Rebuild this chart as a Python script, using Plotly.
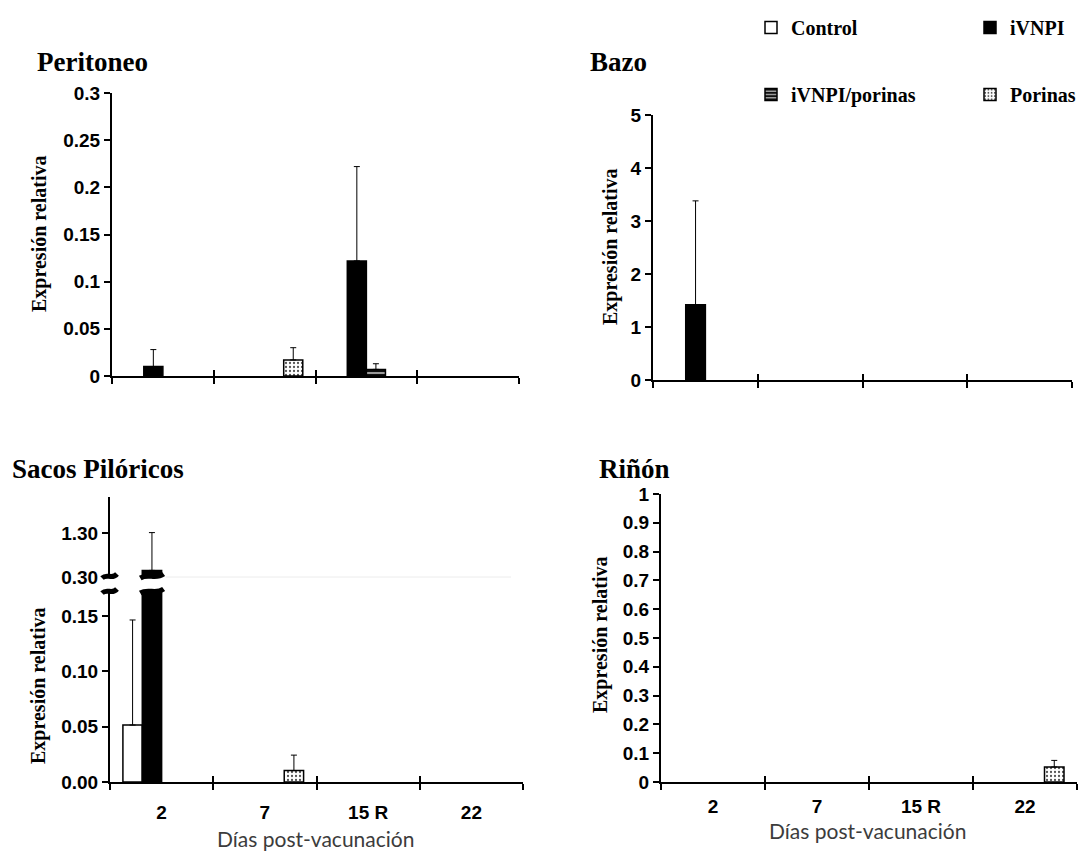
import plotly.graph_objects as go

# ---------------- data ----------------
days = ["2", "7", "15 R", "22"]
series = ["Control", "iVNPI", "iVNPI/porinas", "Porinas"]

# Peritoneo
peri_control = [None, None, None, None]
peri_ivnpi = [0.010, None, 0.122, None]
peri_ivnpi_por = [None, None, 0.007, None]
peri_porinas = [None, 0.017, None, None]
peri_control_err = [None, None, None, None]
peri_ivnpi_err = [0.018, None, 0.100, None]
peri_ivnpi_por_err = [None, None, 0.006, None]
peri_porinas_err = [None, 0.013, None, None]

# Bazo
bazo_control = [None, None, None, None]
bazo_ivnpi = [1.42, None, None, None]
bazo_ivnpi_por = [None, None, None, None]
bazo_porinas = [None, None, None, None]
bazo_control_err = [None, None, None, None]
bazo_ivnpi_err = [1.96, None, None, None]
bazo_ivnpi_por_err = [None, None, None, None]
bazo_porinas_err = [None, None, None, None]

# Sacos Pilóricos (broken axis)
sacos_control = [0.0515, None, None, None]
sacos_ivnpi = [0.45, None, None, None]
sacos_ivnpi_por = [None, None, None, None]
sacos_porinas = [None, 0.0103, None, None]
sacos_control_err = [0.095, None, None, None]
sacos_ivnpi_err = [0.86, None, None, None]
sacos_ivnpi_por_err = [None, None, None, None]
sacos_porinas_err = [None, 0.014, None, None]

# Riñón
rinon_control = [None, None, None, None]
rinon_ivnpi = [None, None, None, None]
rinon_ivnpi_por = [None, None, None, None]
rinon_porinas = [None, None, None, 0.052]
rinon_control_err = [None, None, None, None]
rinon_ivnpi_err = [None, None, None, None]
rinon_ivnpi_por_err = [None, None, None, None]
rinon_porinas_err = [None, None, None, 0.023]

peri_ticks = [0, 0.05, 0.1, 0.15, 0.2, 0.25, 0.3]
bazo_ticks = [0, 1, 2, 3, 4, 5]
sacos_low_ticks = [0, 0.05, 0.10, 0.15]
sacos_up_ticks = [0.30, 1.30]
rinon_ticks = [0, 0.1, 0.2, 0.3, 0.4, 0.5, 0.6, 0.7, 0.8, 0.9, 1]

# ---------------- styling ----------------
W, H = 1086, 851
OFF = 8  # page body margin offset
def fx(p):
    return (p - OFF) / W
def fy(p):
    return 1 - (p - OFF) / H

BARGAP = 0.25
styles = {
    "Control": dict(color="white", line=dict(color="black", width=1.5)),
    "iVNPI": dict(color="black", line=dict(color="black", width=1.5)),
    "iVNPI/porinas": dict(color="white", line=dict(color="black", width=1.5),
                          pattern=dict(shape="-", fgcolor="black", bgcolor="#9a9a9a", size=4, solidity=0.45)),
    "Porinas": dict(color="white", line=dict(color="black", width=1.5),
                    pattern=dict(shape=".", fgcolor="#555", bgcolor="white", size=4, solidity=0.25)),
}
legend_of = {"Control": "legend", "iVNPI/porinas": "legend", "iVNPI": "legend2", "Porinas": "legend2"}

fig = go.Figure()

def add_panel(vals, errs, xa, ya, showlegend=False):
    for name, v, e in zip(series, vals, errs):
        fig.add_trace(go.Bar(
            x=days, y=v, name=name, xaxis=xa, yaxis=ya,
            marker=styles[name],
            error_y=dict(type="data", symmetric=False, array=e, arrayminus=[0] * len(days),
                         color="black", thickness=1, width=3, visible=True),
            showlegend=showlegend, legend=legend_of[name], legendgroup=name,
            hoverinfo="x+y+name",
        ))

add_panel([peri_control, peri_ivnpi, peri_ivnpi_por, peri_porinas],
          [peri_control_err, peri_ivnpi_err, peri_ivnpi_por_err, peri_porinas_err], "x", "y", True)
add_panel([bazo_control, bazo_ivnpi, bazo_ivnpi_por, bazo_porinas],
          [bazo_control_err, bazo_ivnpi_err, bazo_ivnpi_por_err, bazo_porinas_err], "x2", "y2")
sacos_vals = [sacos_control, sacos_ivnpi, sacos_ivnpi_por, sacos_porinas]
sacos_errs = [sacos_control_err, sacos_ivnpi_err, sacos_ivnpi_por_err, sacos_porinas_err]
add_panel(sacos_vals, sacos_errs, "x3", "y3")
add_panel(sacos_vals, sacos_errs, "x4", "y4")
add_panel([rinon_control, rinon_ivnpi, rinon_ivnpi_por, rinon_porinas],
          [rinon_control_err, rinon_ivnpi_err, rinon_ivnpi_por_err, rinon_porinas_err], "x5", "y5")

# dummy traces for overlay tick axes (inside half of crossing ticks)
for xa, ya in [("x6", "y"), ("x7", "y2"), ("x8", "y3"), ("x9", "y5")]:
    fig.add_trace(go.Scatter(x=days, y=[None] * 4, xaxis=xa, yaxis=ya, mode="markers",
                             showlegend=False, hoverinfo="skip"))

TICKFONT = dict(family="Liberation Sans, Arial", size=19, color="black", weight="bold")

def xaxis_def(dom, anchor, labels=False, standoff=0):
    d = dict(domain=[fx(dom[0]), fx(dom[1])], anchor=anchor, type="category",
             categoryorder="array", categoryarray=days, range=[-0.5, 3.5],
             showline=True, linecolor="black", linewidth=2,
             ticks="outside", ticklen=6, tickwidth=2, tickcolor="black",
             tickson="boundaries", showgrid=False, zeroline=False, automargin=False,
             showticklabels=labels, tickfont=TICKFONT)
    if labels:
        d["ticklabelstandoff"] = standoff
    return d

def overlay_def(over, anchor):
    return dict(overlaying=over, anchor=anchor, type="category", categoryorder="array",
                categoryarray=days, range=[-0.5, 3.5], showline=False, automargin=False,
                ticks="inside", ticklen=6, tickwidth=2, tickcolor="black",
                tickson="boundaries", showgrid=False, zeroline=False, showticklabels=False)

def yaxis_def(dom, anchor, rng, tickvals, fmt=None):
    d = dict(domain=[fy(dom[0]), fy(dom[1])], anchor=anchor, range=rng,
             tickvals=tickvals, showline=True, linecolor="black", linewidth=2,
             ticks="outside", ticklen=6, tickwidth=2, tickcolor="black", automargin=False,
             showgrid=False, zeroline=False, tickfont=TICKFONT)
    if fmt:
        d["tickformat"] = fmt
    return d

# pixel geometry (window pixels)
PERI_X = (112, 519); PERI_Y = (376, 93)
BAZO_X = (653, 1072); BAZO_Y = (380, 115)
SAC_X = (110, 523); SAC_LOW_Y = (782, 590); SAC_UP_Y = (577, 497)
RIN_X = (661, 1077); RIN_Y = (782, 494)

LEGFONT = dict(family="Liberation Serif, Times New Roman", size=20, color="black", weight="bold")
fig.update_layout(
    template="none",
    width=W, height=H, margin=dict(l=0, r=0, t=0, b=0, autoexpand=False),
    paper_bgcolor="white", plot_bgcolor="rgba(0,0,0,0)",
    barmode="group", bargap=BARGAP, bargroupgap=0,
    xaxis=xaxis_def(PERI_X, "y"),
    yaxis=yaxis_def(PERI_Y, "x", [0, 0.3], peri_ticks),
    xaxis2=xaxis_def(BAZO_X, "y2"),
    yaxis2=yaxis_def(BAZO_Y, "x2", [0, 5], bazo_ticks),
    xaxis3=xaxis_def(SAC_X, "y3", labels=True, standoff=12),
    yaxis3=yaxis_def(SAC_LOW_Y, "x3", [0, 0.1736], sacos_low_ticks, ".2f"),
    xaxis4=dict(domain=[fx(SAC_X[0]), fx(SAC_X[1])], anchor="y4", type="category",
                categoryorder="array", categoryarray=days, range=[-0.5, 3.5], visible=False),
    yaxis4=yaxis_def(SAC_UP_Y, "x4", [0.30, 2.12], sacos_up_ticks, ".2f"),
    xaxis5=xaxis_def(RIN_X, "y5", labels=True, standoff=6),
    yaxis5=yaxis_def(RIN_Y, "x5", [0, 1], rinon_ticks),
    xaxis6=overlay_def("x", "y"),
    xaxis7=overlay_def("x2", "y2"),
    xaxis8=overlay_def("x3", "y3"),
    xaxis9=overlay_def("x5", "y5"),
    legend=dict(x=fx(751), y=fy(8), xanchor="left", yanchor="top", font=LEGFONT,
                tracegroupgap=38, bgcolor="rgba(0,0,0,0)"),
    legend2=dict(x=fx(970), y=fy(8), xanchor="left", yanchor="top", font=LEGFONT,
                 tracegroupgap=38, bgcolor="rgba(0,0,0,0)"),
)

# ---------------- annotations ----------------
TITLE_FONT = dict(family="Liberation Serif, Times New Roman", size=27, color="black")
YT_FONT = dict(family="Liberation Serif, Times New Roman", size=20, color="black")
XT_FONT = dict(family="Lato, Open Sans, sans-serif", size=21, color="#3c3c3c")
ann = []
for text, px, py in [("Peritoneo", 35, 62), ("Bazo", 588, 62), ("Sacos Pilóricos", 10, 469), ("Riñón", 597, 469)]:
    ann.append(dict(text=f"<b>{text}</b>", x=fx(px), y=fy(py), xref="paper", yref="paper",
                    xanchor="left", yanchor="middle", showarrow=False, font=TITLE_FONT))
for px, py in [(40, 234), (610, 247), (38, 686), (600, 635)]:
    ann.append(dict(text="<b>Expresión relativa</b>", x=fx(px), y=fy(py), xref="paper", yref="paper",
                    xanchor="center", yanchor="middle", textangle=-90, showarrow=False, font=YT_FONT))
for px, py in [(315, 838), (867, 830)]:
    ann.append(dict(text="Días post-vacunación", x=fx(px), y=fy(py), xref="paper", yref="paper",
                    xanchor="center", yanchor="middle", showarrow=False, font=XT_FONT))
fig.update_layout(annotations=ann)

# ---------------- axis-break decoration ----------------
def wave(xl, xr, ypix):
    xm1 = xl + (xr - xl) * 0.35
    xm2 = xl + (xr - xl) * 0.65
    return (f"M {fx(xl)},{fy(ypix + 2)} C {fx(xm1)},{fy(ypix - 3)} "
            f"{fx(xm2)},{fy(ypix + 4)} {fx(xr)},{fy(ypix - 2)}")

shapes = []
# position of the iVNPI bar in the first group (derived from domain and bar gap)
gw = (SAC_X[1] - SAC_X[0]) / len(days)
bw = gw * (1 - BARGAP) / len(series)
bar_l = SAC_X[0] + gw * BARGAP / 2 + bw * 1
bar_r = bar_l + bw
for xl, xr in [(SAC_X[0] - 8, SAC_X[0] + 7), (bar_l - 2, bar_r + 2)]:
    for yp in (SAC_UP_Y[0] - 1, SAC_LOW_Y[1] + 1):
        shapes.append(dict(type="path", path=wave(xl, xr, yp), xref="paper", yref="paper",
                           line=dict(color="black", width=5)))
# faint line at the 0.30 break level
shapes.append(dict(type="line", xref="paper", yref="paper", x0=fx(bar_r + 4), x1=fx(SAC_X[1] - 12),
                   y0=fy(SAC_UP_Y[0]), y1=fy(SAC_UP_Y[0]), line=dict(color="#ececec", width=1),
                   layer="below"))
fig.update_layout(shapes=shapes)

fig.write_html("out.html")
